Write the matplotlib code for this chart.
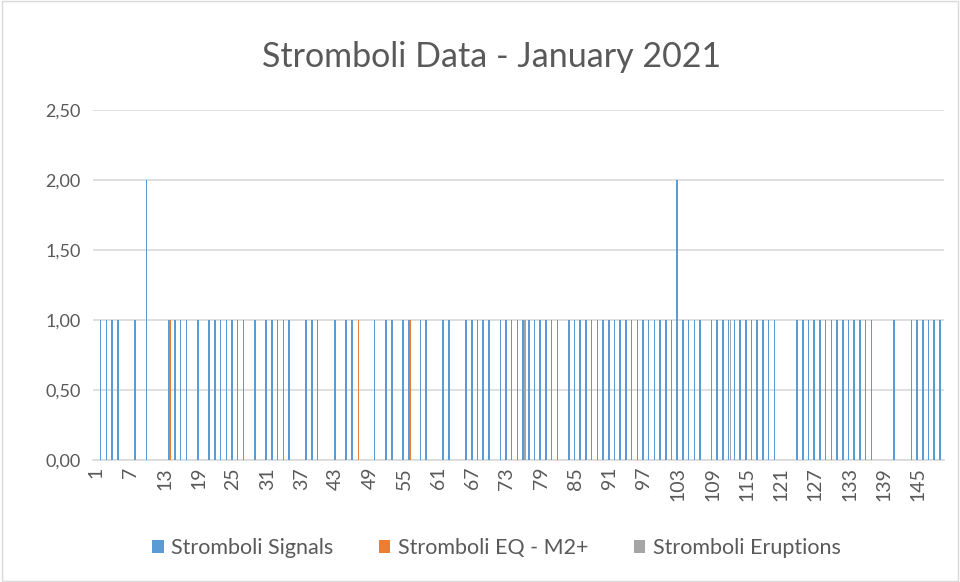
import matplotlib.pyplot as plt
import numpy as np
from matplotlib.patches import Patch, Rectangle

# category index 1..149
categories = np.arange(1, 150)

signals = [
    0, 1, 1, 1, 1, 0, 0, 1, 0, 2,
    0, 0, 0, 1, 1, 1, 1, 0, 1, 0,
    1, 1, 1, 1, 1, 1, 1, 0, 1, 0,
    1, 1, 1, 1, 1, 0, 0, 1, 1, 1,
    0, 0, 1, 0, 1, 1, 0, 0, 0, 1,
    0, 1, 1, 0, 1, 1, 0, 1, 1, 0,
    0, 1, 1, 0, 0, 1, 1, 1, 1, 1,
    0, 1, 1, 1, 1, 1, 1, 1, 1, 1,
    1, 1, 0, 1, 1, 1, 1, 1, 1, 1,
    1, 1, 1, 1, 1, 1, 1, 1, 1, 1,
    1, 1, 2, 1, 1, 1, 1, 0, 1, 1,
    1, 1, 1, 1, 1, 1, 1, 1, 1, 1,
    0, 0, 0, 1, 1, 1, 1, 1, 1, 1,
    1, 1, 1, 1, 1, 1, 1, 0, 0, 0,
    1, 0, 0, 1, 1, 1, 1, 1, 1,
]
eq_days = [14, 47, 56]
eq_values = [1, 1, 1]
eruption_days = [76, 112]
eruption_values = [1, 1]

series_names = ["Stromboli Signals", "Stromboli EQ - M2+", "Stromboli Eruptions"]
colors = ["#5B9BD5", "#ED7D31", "#A5A5A5"]
text_col = "#595959"

plt.rcParams['font.family'] = ['Lato', 'DejaVu Sans']

fig = plt.figure(figsize=(9.6, 5.82), dpi=100)
fig.patches.append(Rectangle((0.002, 0.002), 0.996, 0.996, transform=fig.transFigure,
                             fill=False, edgecolor="#D9D9D9", linewidth=1))
ax = fig.add_axes([0.097, 0.2096, 0.886, 0.6014])

bw = 0.27
off = 0.17
ax.bar(categories - off, signals, width=bw, color=colors[0], linewidth=0, zorder=3)
ax.bar(np.array(eq_days), eq_values, width=bw, color=colors[1], linewidth=0, zorder=3)
ax.bar(np.array(eruption_days) + off, eruption_values, width=bw, color=colors[2], linewidth=0, zorder=3)

ax.set_xlim(0.5, 149.5)
ax.set_ylim(0, 2.5)
yt = np.arange(0, 2.51, 0.5)
ax.set_yticks(yt)
ax.set_yticklabels([f"{v:.2f}".replace(".", ",") for v in yt], fontsize=13, color=text_col)
xt = np.arange(1, 150, 6)
ax.set_xticks(xt)
ax.set_xticklabels([str(v) for v in xt], rotation=90, fontsize=14, color=text_col)
ax.tick_params(axis='x', length=0, pad=5)
ax.tick_params(axis='y', length=0, pad=9)
ax.grid(axis='y', color="#D9D9D9", linewidth=1.2, zorder=0)
for s in ["top", "right", "left"]:
    ax.spines[s].set_visible(False)
ax.spines["bottom"].set_color("#D9D9D9")
ax.spines["bottom"].set_linewidth(1.2)

fig.text(0.512, 0.902, "Stromboli Data - January 2021", ha='center', va='center',
         fontsize=24.5, color=text_col)

handles = [Patch(facecolor=c, edgecolor='none') for c in colors]
fig.legend(handles, series_names, loc='center', bbox_to_anchor=(0.517, 0.058), ncol=3,
           frameon=False, fontsize=15.5, labelcolor=text_col, handlelength=0.55,
           handleheight=0.55, handletextpad=0.35, columnspacing=2.1)

fig.savefig("out.png", dpi=100)
